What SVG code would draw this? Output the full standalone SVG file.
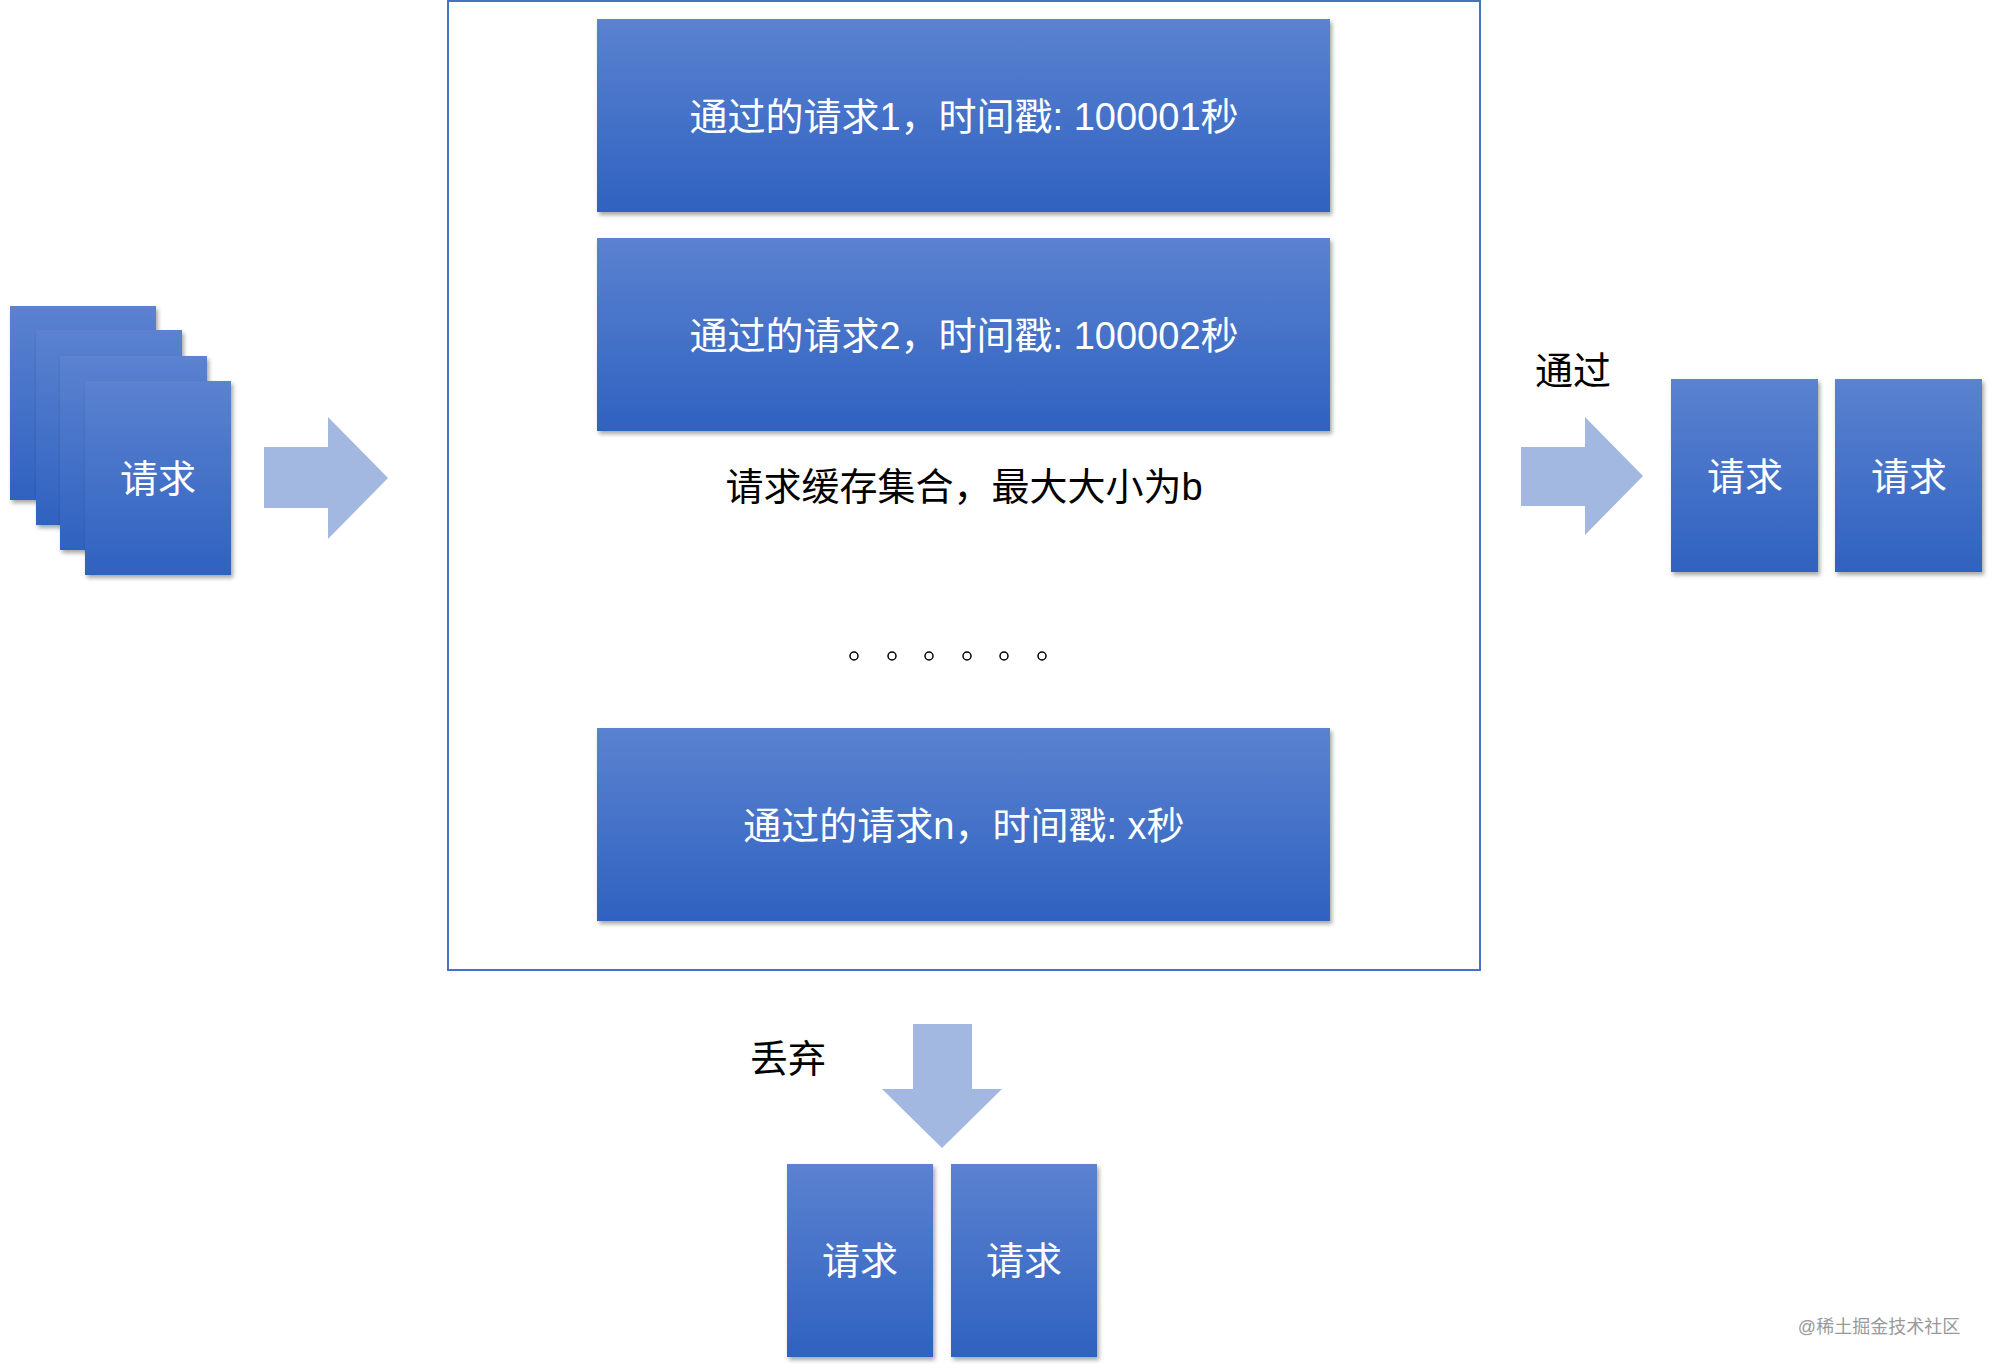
<svg xmlns="http://www.w3.org/2000/svg" width="1993" height="1370" viewBox="0 0 1993 1370">
<defs>
<linearGradient id="g" x1="0" y1="0" x2="0" y2="1"><stop offset="0" stop-color="#5b82d0"/><stop offset="1" stop-color="#2f62c0"/></linearGradient>
<filter id="sh" x="-10%" y="-10%" width="125%" height="125%"><feDropShadow dx="2" dy="3" stdDeviation="2" flood-color="#000" flood-opacity="0.35"/></filter>
</defs>
<style>
.b{fill:url(#g);filter:url(#sh)}
.w{fill:#fff;font-family:"Liberation Sans","Noto Sans CJK SC",sans-serif;font-size:38px;text-anchor:middle;dominant-baseline:central}
.k{fill:#000;font-family:"Liberation Sans","Noto Sans CJK SC",sans-serif;font-size:38px;text-anchor:middle;dominant-baseline:central}
.a{fill:#a2b8e0}
</style>
<rect width="1993" height="1370" fill="#fff"/>
<g id="frame"><rect x="448" y="1" width="1032" height="969" fill="none" stroke="#4472c4" stroke-width="2"/></g>
<g id="box1"><rect class="b" x="597" y="19" width="733" height="193"/><text class="w" x="964" y="117">通过的请求1，时间戳: 100001秒</text></g>
<g id="box2"><rect class="b" x="597" y="238" width="733" height="193"/><text class="w" x="964" y="336">通过的请求2，时间戳: 100002秒</text></g>
<g id="label-set"><text class="k" x="964" y="487">请求缓存集合，最大大小为b</text></g>
<g id="dots" fill="none" stroke="#000" stroke-width="1.5">
<circle cx="854" cy="656" r="4"/><circle cx="892" cy="656" r="4"/><circle cx="929" cy="656" r="4"/><circle cx="967" cy="656" r="4"/><circle cx="1004" cy="656" r="4"/><circle cx="1042" cy="656" r="4"/>
</g>
<g id="boxn"><rect class="b" x="597" y="728" width="733" height="193"/><text class="w" x="964" y="826">通过的请求n，时间戳: x秒</text></g>
<g id="stack">
<rect class="b" x="10" y="306" width="146" height="194"/>
<rect class="b" x="36" y="330" width="146" height="195"/>
<rect class="b" x="60" y="356" width="147" height="194"/>
<rect class="b" x="85" y="381" width="146" height="194"/>
<text class="w" x="158" y="479">请求</text>
</g>
<g id="connectors">
<polygon class="a" points="264,447 328,447 328,417 388,478 328,539 328,508 264,508"/>
<polygon class="a" points="1521,447 1585,447 1585,417 1643,476 1585,535 1585,506 1521,506"/>
<polygon class="a" points="913,1024 972,1024 972,1089 1002,1089 942,1148 882,1089 913,1089"/>
</g>
<g id="label-pass"><text class="k" x="1573" y="371">通过</text></g>
<g id="label-drop"><text class="k" x="788" y="1059">丢弃</text></g>
<g id="r1"><rect class="b" x="1671" y="379" width="147" height="193"/><text class="w" x="1745" y="477">请求</text></g>
<g id="r2"><rect class="b" x="1835" y="379" width="147" height="193"/><text class="w" x="1909" y="477">请求</text></g>
<g id="d1"><rect class="b" x="787" y="1164" width="146" height="193"/><text class="w" x="860" y="1261">请求</text></g>
<g id="d2"><rect class="b" x="951" y="1164" width="146" height="193"/><text class="w" x="1024" y="1261">请求</text></g>
<text x="1879" y="1327" fill="#999" font-family="Liberation Sans,Noto Sans CJK SC,sans-serif" font-size="18" text-anchor="middle" dominant-baseline="central">@稀土掘金技术社区</text>
</svg>
